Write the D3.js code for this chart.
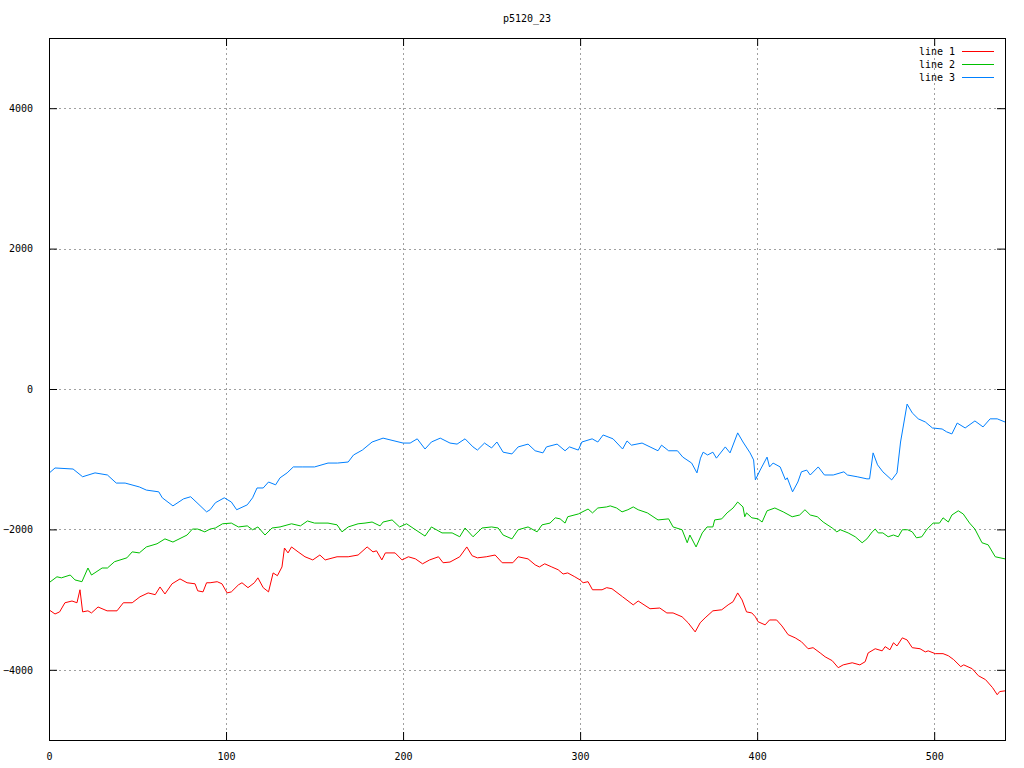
<!DOCTYPE html>
<html>
<head>
<meta charset="utf-8">
<script src="https://cdn.jsdelivr.net/npm/d3@7"></script>
<style>
  html, body { margin: 0; padding: 0; background: #fff; }
  svg text { font-family: "DejaVu Sans Mono", "Liberation Mono", monospace; font-size: 10px; fill: #000; }
</style>
</head>
<body>
<svg id="chart" width="1024" height="768"></svg>
<script>
const title = "p5120_23";
const seriesNames = ["line 1", "line 2", "line 3"];
const seriesColors = ["#ff0000", "#00c000", "#0080ff"];
const xTicks = [0, 100, 200, 300, 400, 500];
const yTicks = [-4000, -2000, 0, 2000, 4000];

const line1X = [0, 3.4, 6, 9, 13, 15.8, 17.5, 19, 22, 24, 27.7, 32.8, 38.4, 42, 47, 51.4, 56, 60, 62.7, 65.5, 69.5, 74, 78, 82.5, 84, 87, 89, 91, 95, 97.7, 100.6, 103, 107, 109, 112.4, 116, 118, 121, 124, 126.6, 129, 131.6, 133, 135, 137, 140.7, 144.6, 149, 153, 156, 162.7, 169, 174.6, 179.7, 183, 185, 188, 190, 195.5, 199.4, 203, 207, 211, 215, 220, 222.6, 226.5, 232, 236, 239, 242, 247, 252, 256, 262, 265, 270.6, 274.6, 277, 280, 284, 287.6, 290.4, 293, 297, 300, 301.7, 304.5, 307, 312.4, 315, 318, 324, 330, 332.8, 339.5, 345, 349, 352.5, 357.6, 361, 365, 367.8, 370.6, 375, 380, 383.6, 386.4, 389, 391.5, 394, 397, 399, 400.5, 404.5, 407, 411, 414, 417.5, 421.5, 425, 428.8, 431.6, 435.6, 438.4, 442.4, 445.8, 448.6, 453.7, 458, 461, 462.7, 466.7, 470.6, 472.3, 475, 477, 479, 482, 484.7, 487.6, 492, 495, 496.6, 500.6, 505, 508, 511, 515, 516.7, 521.5, 525, 529, 533, 535.6, 537, 540];
const line1Y = [-3145, -3205, -3175, -3045, -3020, -3045, -2860, -3175, -3160, -3190, -3105, -3160, -3160, -3045, -3045, -2960, -2905, -2930, -2820, -2920, -2775, -2705, -2760, -2775, -2875, -2890, -2760, -2760, -2745, -2775, -2905, -2890, -2790, -2760, -2830, -2760, -2690, -2830, -2890, -2620, -2660, -2535, -2265, -2335, -2250, -2320, -2390, -2435, -2365, -2435, -2390, -2390, -2365, -2250, -2320, -2305, -2435, -2335, -2335, -2435, -2390, -2420, -2490, -2435, -2390, -2475, -2465, -2390, -2250, -2375, -2405, -2390, -2365, -2475, -2475, -2390, -2420, -2505, -2535, -2490, -2535, -2575, -2635, -2620, -2675, -2720, -2760, -2745, -2860, -2860, -2830, -2845, -2960, -3075, -3020, -3130, -3120, -3190, -3190, -3245, -3330, -3460, -3330, -3260, -3160, -3145, -3075, -3030, -2905, -3005, -3175, -3190, -3245, -3315, -3360, -3290, -3290, -3375, -3500, -3545, -3600, -3700, -3685, -3760, -3815, -3870, -3970, -3930, -3900, -3930, -3885, -3760, -3700, -3730, -3670, -3715, -3615, -3660, -3545, -3575, -3685, -3700, -3745, -3730, -3770, -3770, -3800, -3855, -3955, -3930, -3985, -4085, -4140, -4255, -4355, -4310, -4300];

const line2X = [0, 4.5, 7, 12, 14.7, 18.6, 22, 24, 30, 33, 37, 44, 47, 51, 55, 61, 65.5, 70, 78, 81, 84, 88, 91, 94, 98, 103, 107, 112, 115, 118, 122, 126, 130.5, 137, 142, 146, 150, 157.6, 162.7, 165.5, 169, 174.6, 178.5, 182.5, 187, 188.7, 193.8, 198, 202, 207, 212.4, 216, 222, 227.7, 232, 235, 239.5, 244.6, 250, 253.7, 256.5, 261.5, 265, 270.6, 275.7, 278.5, 283, 286, 288.7, 291.5, 293, 299, 304.5, 307, 310, 315, 317, 320.6, 323.7, 327, 330, 332.8, 338, 344, 350, 352.5, 357.6, 360.5, 362, 365.5, 369, 371.7, 375, 376, 380, 383, 386.4, 389, 392, 393, 394, 397, 400.5, 402.8, 405.6, 410, 414.7, 419.8, 424, 427, 430, 434, 437.3, 442.4, 445, 447, 451.4, 455.4, 459.3, 462, 465, 466.7, 468.4, 471, 474, 477, 479.7, 482, 485, 487.6, 490, 493, 496, 499.4, 503, 505, 508, 510, 513.6, 516.4, 520, 523, 527, 530.5, 534.5, 540];
const line2Y = [-2760, -2675, -2690, -2650, -2720, -2745, -2550, -2650, -2550, -2550, -2460, -2405, -2320, -2335, -2250, -2205, -2135, -2180, -2080, -1995, -1995, -2035, -1995, -1980, -1920, -1910, -1965, -1950, -2005, -1965, -2080, -1980, -1965, -1920, -1950, -1880, -1910, -1910, -1935, -2035, -1965, -1920, -1910, -1895, -1950, -1895, -1865, -1965, -1920, -2005, -2095, -1965, -2050, -2050, -2105, -1980, -2105, -1980, -1965, -1980, -2080, -2135, -2005, -1965, -2035, -1935, -1910, -1835, -1850, -1910, -1820, -1780, -1710, -1765, -1695, -1680, -1665, -1695, -1750, -1720, -1680, -1720, -1765, -1865, -1850, -1965, -2005, -2190, -2080, -2250, -2050, -1965, -1965, -1865, -1850, -1765, -1695, -1610, -1680, -1820, -1765, -1835, -1850, -1895, -1735, -1695, -1750, -1820, -1795, -1720, -1795, -1820, -1895, -1980, -2035, -2005, -2050, -2105, -2190, -2135, -2035, -1995, -2050, -2050, -2105, -2080, -2105, -2005, -2005, -2035, -2120, -2105, -1995, -1910, -1910, -1835, -1895, -1795, -1735, -1780, -1910, -1995, -2190, -2220, -2390, -2420];

const line3X = [0, 3.4, 13.6, 19, 26, 33, 38, 43, 51, 55, 62, 64, 70, 76, 80, 83.6, 89, 91, 94, 99, 103, 106, 112, 115, 117.5, 121, 124, 128, 130.5, 134.5, 138, 143, 150, 157.6, 163, 169, 172, 177, 182.5, 188.7, 200, 204, 208, 212.4, 216, 221, 226.5, 230.5, 235, 239.5, 242, 246, 250, 253, 256.5, 261.5, 265, 270.6, 274.6, 279, 281, 287, 291.5, 294, 299, 301, 306.8, 310, 313, 318.6, 324, 326.5, 329, 335, 339.5, 344, 346, 350, 355, 358, 363, 366, 368, 369.5, 372, 375, 377, 382, 384.7, 389, 392, 396, 398, 399, 401.7, 405.6, 407, 409, 413, 416, 417, 420, 423, 425, 428, 430, 434.5, 438, 443, 449, 451, 456.5, 462, 463.5, 465.5, 468, 471, 476, 479, 481, 484.7, 487.6, 491, 495, 499, 504.5, 507, 510, 513, 517.5, 523, 527.6, 531.6, 535.6, 540];
const line3Y = [-1200, -1125, -1140, -1250, -1195, -1225, -1340, -1340, -1395, -1440, -1465, -1550, -1665, -1565, -1535, -1620, -1750, -1720, -1620, -1550, -1610, -1720, -1650, -1550, -1410, -1410, -1325, -1365, -1265, -1195, -1110, -1110, -1110, -1055, -1055, -1040, -940, -870, -755, -700, -770, -770, -710, -855, -755, -700, -770, -785, -710, -825, -870, -770, -840, -755, -900, -925, -825, -785, -880, -910, -825, -785, -880, -825, -870, -755, -710, -755, -655, -710, -855, -740, -800, -770, -825, -880, -800, -880, -880, -970, -1055, -1195, -985, -900, -940, -900, -985, -825, -910, -625, -755, -910, -1010, -1295, -1155, -970, -1110, -1055, -1110, -1295, -1265, -1465, -1325, -1180, -1155, -1225, -1110, -1225, -1225, -1180, -1225, -1250, -1280, -1280, -910, -1080, -1180, -1295, -1195, -755, -215, -340, -425, -470, -555, -570, -610, -640, -485, -555, -455, -540, -425, -425, -470];

const seriesX = [line1X, line2X, line3X];
const seriesY = [line1Y, line2Y, line3Y];

const margin = { left: 49, right: 1005, top: 38, bottom: 740 };
const svg = d3.select("#chart");

const x = d3.scaleLinear().domain([0, 540]).range([margin.left, margin.right]);
const y = d3.scaleLinear().domain([-5000, 5000]).range([margin.bottom, margin.top]);

// grid
const grid = svg.append("g").attr("stroke", "#a0a0a0").attr("stroke-width", 1).attr("stroke-dasharray", "2,3");
xTicks.filter(t => t > 0).forEach(t => {
  grid.append("line").attr("x1", Math.round(x(t)) + 0.5).attr("x2", Math.round(x(t)) + 0.5)
    .attr("y1", margin.top).attr("y2", margin.bottom);
});
yTicks.forEach(t => {
  grid.append("line").attr("y1", Math.round(y(t)) + 0.5).attr("y2", Math.round(y(t)) + 0.5)
    .attr("x1", margin.left).attr("x2", margin.right);
});

// axes
const tickLen = 8;
const xAxisB = d3.axisBottom(x).tickValues(xTicks).tickSizeInner(-tickLen).tickSizeOuter(0).tickPadding(tickLen + 5);
const xAxisT = d3.axisTop(x).tickValues(xTicks).tickSizeInner(-tickLen).tickSizeOuter(0).tickFormat("");
const yAxisL = d3.axisLeft(y).tickValues(yTicks).tickSizeInner(-tickLen).tickSizeOuter(0).tickPadding(tickLen + 8).tickFormat(d3.format("d"));
const yAxisR = d3.axisRight(y).tickValues(yTicks).tickSizeInner(-tickLen).tickSizeOuter(0).tickFormat("");

function styleAxis(g) {
  g.select(".domain").remove();
  g.selectAll(".tick line").attr("stroke", "#000");
  g.selectAll("text").style("font-family", "'DejaVu Sans Mono', monospace").style("font-size", "10px").attr("fill", "#000");
}
svg.append("g").attr("transform", `translate(0,${margin.bottom})`).call(xAxisB).call(styleAxis);
svg.append("g").attr("transform", `translate(0,${margin.top})`).call(xAxisT).call(styleAxis);
svg.append("g").attr("transform", `translate(${margin.left},0)`).call(yAxisL).call(styleAxis);
svg.append("g").attr("transform", `translate(${margin.right},0)`).call(yAxisR).call(styleAxis);

// lines
svg.append("clipPath").attr("id", "clip").append("rect")
  .attr("x", margin.left).attr("y", margin.top)
  .attr("width", margin.right - margin.left).attr("height", margin.bottom - margin.top);
const lineGen = d3.line().x(d => x(d[0])).y(d => y(d[1]));
seriesX.forEach((xs, i) => {
  const pts = xs.map((v, j) => [v, seriesY[i][j]]);
  svg.append("path").datum(pts).attr("d", lineGen).attr("fill", "none")
    .attr("stroke", seriesColors[i]).attr("stroke-width", 1).attr("clip-path", "url(#clip)");
});

// border
svg.append("rect").attr("x", margin.left + 0.5).attr("y", margin.top + 0.5)
  .attr("width", margin.right - margin.left).attr("height", margin.bottom - margin.top)
  .attr("fill", "none").attr("stroke", "#000").attr("stroke-width", 1);

// title
svg.append("text").attr("x", (margin.left + margin.right) / 2).attr("y", 22)
  .attr("text-anchor", "middle").text(title);

// legend
const legendY = [51, 64, 77];
seriesNames.forEach((name, i) => {
  svg.append("text").attr("x", 955).attr("y", legendY[i] + 4).attr("text-anchor", "end").text(name);
  svg.append("line").attr("x1", 962).attr("x2", 994).attr("y1", legendY[i] + 0.5).attr("y2", legendY[i] + 0.5)
    .attr("stroke", seriesColors[i]).attr("stroke-width", 1);
});
</script>
</body>
</html>
